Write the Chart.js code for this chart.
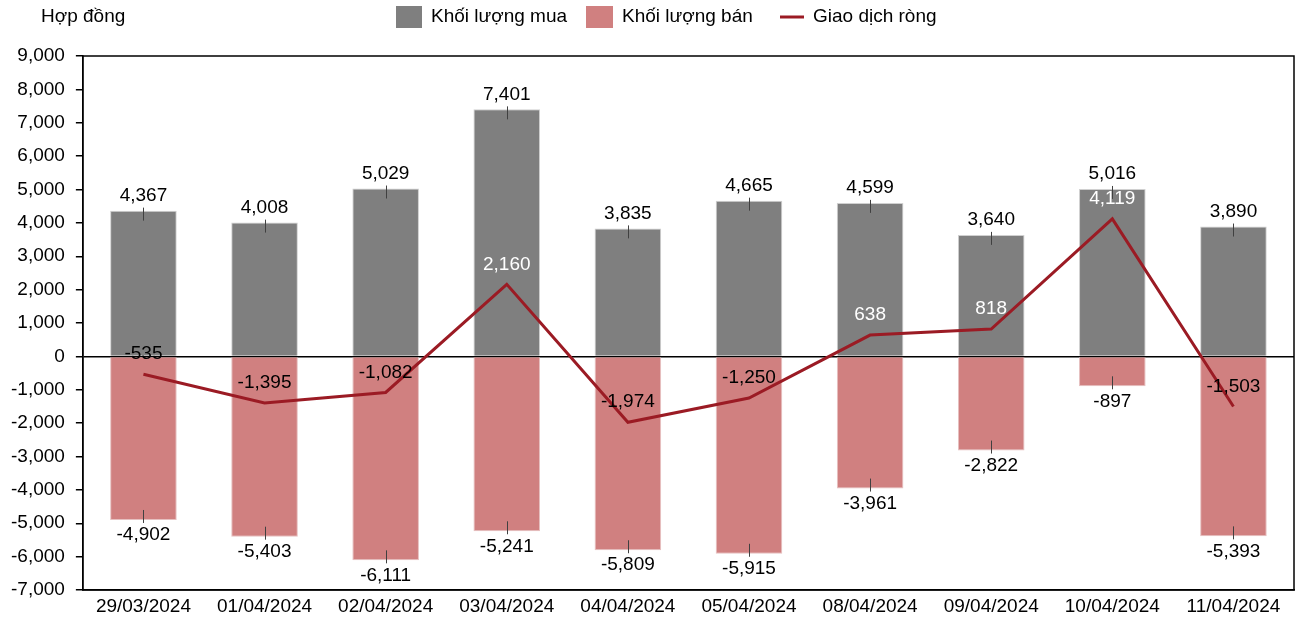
<!DOCTYPE html>
<html>
<head>
<meta charset="utf-8">
<script src="https://cdn.jsdelivr.net/npm/chart.js@4/dist/chart.umd.min.js"></script>
<style>
  html, body { margin: 0; padding: 0; background: #fff; }
  #wrap { width: 1300px; height: 618px; }
</style>
</head>
<body>
<div id="wrap"><canvas id="myChart" width="1300" height="618"></canvas></div>
<script>
// data
var dates = ["29/03/2024", "01/04/2024", "02/04/2024", "03/04/2024", "04/04/2024",
  "05/04/2024", "08/04/2024", "09/04/2024", "10/04/2024", "11/04/2024"];
var buyVol = [4367, 4008, 5029, 7401, 3835, 4665, 4599, 3640, 5016, 3890];
var sellVol = [-4902, -5403, -6111, -5241, -5809, -5915, -3961, -2822, -897, -5393];
var netVol = [-535, -1395, -1082, 2160, -1974, -1250, 638, 818, 4119, -1503];
var yTicks = [-7000, -6000, -5000, -4000, -3000, -2000, -1000, 0, 1000, 2000, 3000, 4000, 5000, 6000, 7000, 8000, 9000];

var FONT = "'Liberation Sans', Arial, sans-serif";
var FS = 19;

function fmt(v) {
  return v.toLocaleString("en-US");
}

// labels, little leader ticks, frame, legend, unit text
const labelPlugin = {
  id: "labelPlugin",
  afterDatasetsDraw(chart) {
    const ctx = chart.ctx;
    const area = chart.chartArea;
    ctx.save();
    ctx.font = FS + "px " + FONT;
    ctx.textAlign = "center";
    ctx.textBaseline = "middle";

    [0, 1].forEach((di) => {
      const meta = chart.getDatasetMeta(di);
      meta.data.forEach((bar, i) => {
        const v = chart.data.datasets[di].data[i];
        const dir = v >= 0 ? 1 : -1;
        ctx.strokeStyle = "#404040";
        ctx.lineWidth = 1;
        ctx.beginPath();
        ctx.moveTo(Math.round(bar.x) + 0.5, bar.y - 3 * dir);
        ctx.lineTo(Math.round(bar.x) + 0.5, bar.y + 10 * dir);
        ctx.stroke();
        ctx.fillStyle = "#000";
        ctx.fillText(fmt(v), bar.x, bar.y - 15 * dir);
      });
    });

    const lmeta = chart.getDatasetMeta(2);
    lmeta.data.forEach((pt, i) => {
      const v = netVol[i];
      ctx.fillStyle = v > 0 ? "#fff" : "#000";
      ctx.fillText(fmt(v), pt.x, pt.y - 20);
    });

    // frame on top and right
    ctx.strokeStyle = "#000";
    ctx.lineWidth = 1.5;
    ctx.strokeRect(area.left, area.top, area.right - area.left, area.bottom - area.top);

    // legend
    const ds = chart.data.datasets;
    ctx.textAlign = "left";
    ctx.fillStyle = ds[0].backgroundColor;
    ctx.fillRect(396, 6, 26, 22);
    ctx.fillStyle = ds[1].backgroundColor;
    ctx.fillRect(586, 6, 27, 22);
    ctx.strokeStyle = ds[2].borderColor;
    ctx.lineWidth = 3;
    ctx.beginPath();
    ctx.moveTo(780, 17);
    ctx.lineTo(804, 17);
    ctx.stroke();
    ctx.fillStyle = "#000";
    ctx.fillText(ds[0].label, 431, 17);
    ctx.fillText(ds[1].label, 622, 17);
    ctx.fillText(ds[2].label, 813, 17);

    ctx.fillText("Hợp đồng", 41, 17);
    ctx.restore();
  }
};

const ctx = document.getElementById("myChart").getContext("2d");
const myChart = new Chart(ctx, {
  type: "bar",
  data: {
    labels: dates,
    datasets: [
      {
        label: "Khối lượng mua",
        data: buyVol,
        backgroundColor: "#7f7f7f",
        borderColor: "#d0d0d0",
        borderWidth: 1,
        grouped: false,
        order: 2,
        categoryPercentage: 1,
        barPercentage: 0.55
      },
      {
        label: "Khối lượng bán",
        data: sellVol,
        backgroundColor: "#d08080",
        borderColor: "#e6c0c0",
        borderWidth: 1,
        grouped: false,
        order: 1,
        categoryPercentage: 1,
        barPercentage: 0.55
      },
      {
        type: "line",
        label: "Giao dịch ròng",
        data: netVol,
        borderColor: "#9b1b24",
        backgroundColor: "#9b1b24",
        borderWidth: 3,
        pointRadius: 0,
        tension: 0,
        order: 0
      }
    ]
  },
  plugins: [labelPlugin],
  options: {
    responsive: false,
    animation: false,
    layout: { padding: { left: 0, right: 6, top: 56, bottom: 0 } },
    plugins: {
      tooltip: { enabled: false },
      legend: { display: false }
    },
    scales: {
      x: {
        afterFit: (axis) => {
          axis.height = 28;
        },
        grid: { display: false, drawTicks: false },
        border: { color: "#000", width: 1.5 },
        ticks: { font: { family: FONT, size: FS }, color: "#000", padding: 5 }
      },
      y: {
        min: yTicks[0],
        max: yTicks[yTicks.length - 1],
        afterBuildTicks: (axis) => {
          axis.ticks = yTicks.map((v) => ({ value: v }));
        },
        border: { color: "#000", width: 1.5 },
        grid: {
          color: (c) => (c.tick && c.tick.value === 0 ? "#000" : "rgba(0,0,0,0)"),
          lineWidth: 1.5,
          tickColor: "#000",
          tickLength: 7
        },
        ticks: {
          font: { family: FONT, size: FS },
          color: "#000",
          padding: 11,
          callback: (v) => fmt(v)
        }
      }
    }
  }
});
</script>
</body>
</html>
